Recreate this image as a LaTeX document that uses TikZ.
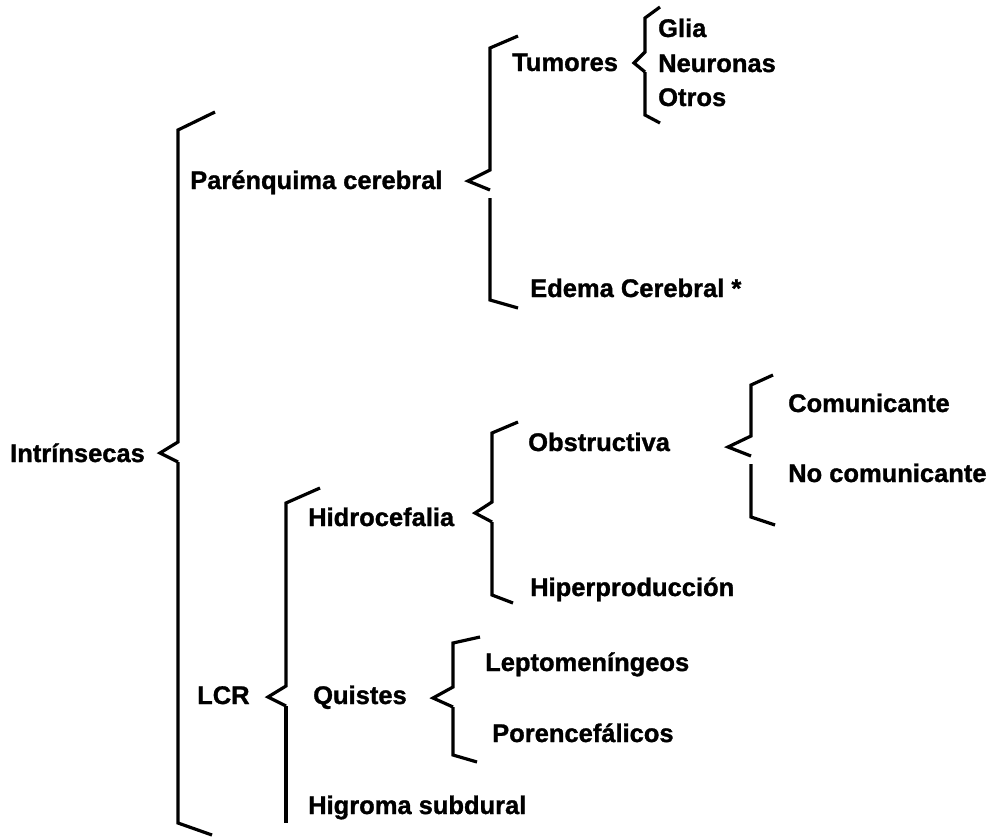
\documentclass[tikz,border=0pt]{standalone}
\usepackage{tikz}
\usetikzlibrary{positioning}
\usepackage{fontspec}
\setmainfont[BoldFeatures={FakeBold=1.2}]{Liberation Sans}

\begin{document}
\begin{tikzpicture}[x=1pt,y=-1pt,
	lbl/.style={anchor=base west,inner sep=0pt,%
		font=\fontsize{25.5}{30}\selectfont\bfseries},
	brc/.style={line width=3.2pt,line join=miter}]
	\useasboundingbox (0,0) rectangle (998,838);
	
	% first level
	\node[lbl] (intr) at (10,462) {Intrínsecas};
	\node[lbl] (paren) at (190,189) {Parénquima cerebral};
	\node[lbl] (lcr) at (197,704) {LCR};
	
	% parenquima
	\node[lbl] (tum) at (512,71) {Tumores};
	\node[lbl] (glia) at (658,37) {Glia};
	\node[lbl] (neur) at (658,72) {Neuronas};
	\node[lbl] (otros) at (658,106) {Otros};
	\node[lbl] (edema) at (530,297) {Edema Cerebral *};
	
	% lcr
	\node[lbl] (hidro) at (308,526) {Hidrocefalia};
	\node[lbl] (obst) at (528,451) {Obstructiva};
	\node[lbl] (com) at (788,412) {Comunicante};
	\node[lbl] (nocom) at (788,482) {No comunicante};
	\node[lbl] (hiper) at (530,596) {Hiperproducción};
	\node[lbl] (quist) at (313,704) {Quistes};
	\node[lbl] (lepto) at (485,671) {Leptomeníngeos};
	\node[lbl] (poren) at (492,742) {Porencefálicos};
	\node[lbl] (higro) at (308,814) {Higroma subdural};
	
	% braces: x / top / mid / bottom / tip / gap / top tick / bottom tick
	\foreach \x/\t/\m/\b/\p/\g/\tx/\ty/\bx/\by in {
		178/130/453/823/160/0/215/112/212/835,
		490/48/181/300/468/8/518/36/518/308,
		645/18/63/115/634/0/660/7/660/123,
		751/385/447/517/728/8/773/375/775/525,
		492/433/513/595/475/0/518/422/513/603,
		286/503/697/823/268/0/320/488/286/823,
		453/643/698/755/433/0/480/637/477/762}{
		\draw[brc] (\tx,\ty) -- (\x,\t) -- (\x,\m-11) -- (\p,\m)
			-- (\x,\m+9);
		\draw[brc] (\x,\m+9+\g) -- (\x,\b) -- (\bx,\by);
	}
\end{tikzpicture}
\end{document}
